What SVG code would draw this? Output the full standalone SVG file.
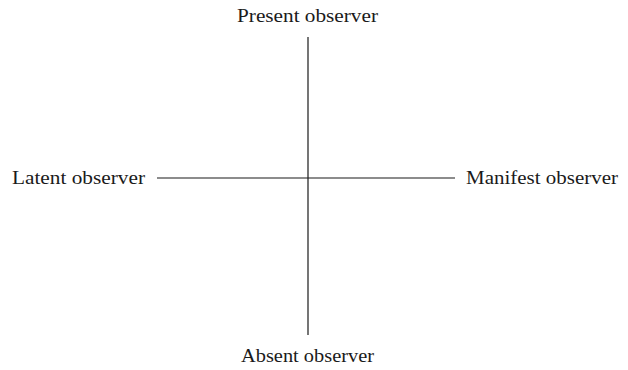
<svg xmlns="http://www.w3.org/2000/svg" width="628" height="370" viewBox="0 0 628 370">
<style>
text{font-family:"Liberation Serif","DejaVu Serif",serif;font-size:19.5px;fill:#1a1a1a}
.ax{stroke:#1a1a1a;stroke-width:1.2;fill:none}
</style>
<rect width="628" height="370" fill="#fff"/>
<g id="connectors">
<line class="ax" x1="308" y1="37" x2="308" y2="335"/>
<line class="ax" x1="157" y1="178" x2="455" y2="178"/>
</g>
<g id="present"><text x="237" y="22" textLength="141" lengthAdjust="spacingAndGlyphs">Present observer</text></g>
<g id="latent"><text x="12" y="184" textLength="133" lengthAdjust="spacingAndGlyphs">Latent observer</text></g>
<g id="manifest"><text x="466" y="184" textLength="152" lengthAdjust="spacingAndGlyphs">Manifest observer</text></g>
<g id="absent"><text x="241" y="362" textLength="133" lengthAdjust="spacingAndGlyphs">Absent observer</text></g>
</svg>
